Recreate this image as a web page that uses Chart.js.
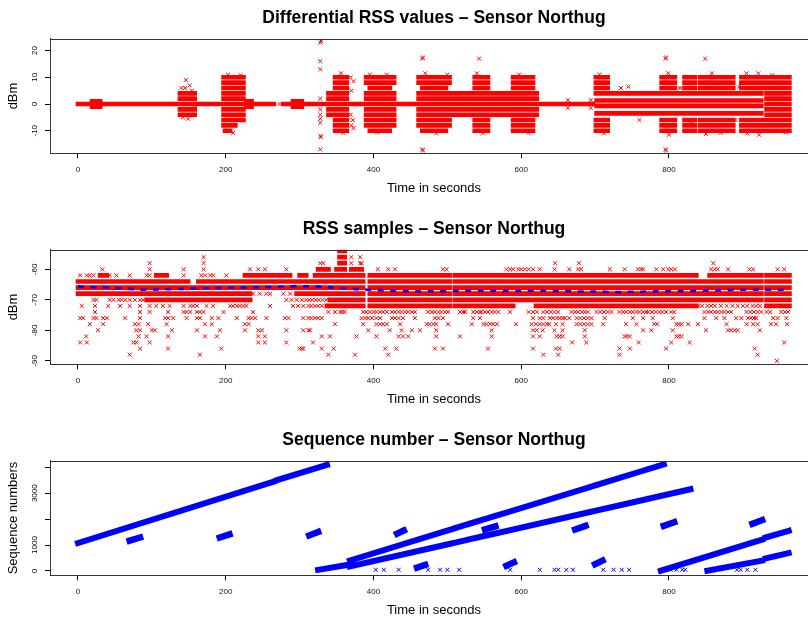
<!DOCTYPE html>
<html><head><meta charset="utf-8">
<script src="https://cdn.jsdelivr.net/npm/chart.js@4"></script>
<style>
html,body{margin:0;padding:0;background:#fff;}
#wrap{position:relative;width:808px;height:620px;overflow:hidden;background:#fff;}
canvas{position:absolute;left:0;}
</style></head><body>
<div id="wrap">
<canvas id="c1" width="830" height="211" style="top:0px"></canvas>
<canvas id="c2" width="830" height="211" style="top:211px"></canvas>
<canvas id="c3" width="830" height="198" style="top:422px"></canvas>
</div>
<script>
// ---------- shared axis data ----------
const xTicks = [0, 200, 400, 600, 800];
const diffYTicks = [-10, 0, 10, 20];
const rssYTicks = [-90, -80, -70, -60];
const seqYTicks = [0, 1000, 2000, 3000, 4000];
const seqYLabels = [0, 1000, 3000];

// ---------- Panel 1: differential RSS ----------
// [tStart, tEnd, [levels]] : dense rows of samples
const diffRows = [
 [0,265,[0]],[278,697,[0]],
 [19,30,[1,-1]],
 [138,158,[4,2,-2,-4]],
 [197,213,[10,8,6,4,2,-2,-4,-6,-8]],[199,206,[-10]],
 [215,224,[10,8,6,4,2,-2,-4,-6]],
 [228,235,[1,-1]],
 [291,303,[1,-1]],
 [339,348,[4,2,-2,-4]],
 [348,364,[10,8,6,4,2,-2,-4,-6,-8,-10]],
 [390,428,[10,8,4,2,-2,-4,-6,-8]],[395,422,[6,-10]],
 [461,503,[10,8,4,2,-2,-4,-6,-8]],[466,498,[6,-10]],
 [509,525,[4,2,-2,-4]],
 [528,576,[4,2,-2,-4]],
 [537,555,[10,8,6,-6,-8,-10]],
 [580,621,[4,2,-2,-4]],
 [589,616,[10,8,6,-6,-8,-10]],
 [701,717,[10,8,6,4,-6,-8,-10]],
 [702,769,[1.3,-0.7,-3.5]],[711,769,[4]],[772,925,[4,1.3,-0.7,-3.5]],
 [790,808,[10,8,6,-6,-8,-10]],
 [821,835,[10,8,6,-6,-8,-10]],
 [842,873,[10,8,6,-6,-8,-10]],
 [876,887,[10,8,6,-6,-8,-10]],
 [898,914,[10,8,6,-6,-8,-10]],
 [920,926,[10,8,6,-6,-8,-10]],
 [932,963,[10,8,6,4,2,0,-2,-4,-6,-8,-10]]
];
// [t, value] : isolated samples
const diffPts = [
 [273,0],[328,23],[329,23.6],[328,16],[328,13],[328,2],[328,-2],[328,-4],[328,-5.5],[328,-7],[328,-12],[329,-12.4],[328,-17],
 [146,9],[145,6],[151,7],[142,-5],[149,-5.5],[154,5],[140,6],[158,-1.5],
 [369,10],[373,8.5],[370,5],[369,-4],[372,-6],[370,-8],[373,-9],
 [466,17],[467,17.4],[466,-17],[467,-17.4],[543,17],[795,17],[796,17.4],[795,-17],[796,-17.4],[849,17],
 [663,1.5],[663,-1.5],[694,1.5],[694,-1.5],
 [356,11.5],[359,-10.8],[395,11],[405,-10.6],[418,11],[470,11.5],[485,-11],[500,11],[540,11.5],[548,-11],
 [597,11],[610,-10.8],[706,11],[712,-11],[799,11.5],[800,-11.5],[858,11.5],[850,-11.2],[870,-10.8],
 [905,11.5],[906,-11],[921,11.5],[922,-11.5],[940,10.8],[958,-10.6],[203,11],[210,-10.8],[220,10.8],
 [735,6],[745,6.5],[760,-6],[815,6],[830,-6.5],[890,-6],[895,6.5]
];

// ---------- Panel 2: RSS samples ----------
// [level, [[tStart,tEnd],...]] : dense rows
const rssRows = [
 [-54,[[354,361]]],[-56,[[354,361]]],[-58,[[354,361]]],
 [-60,[[325,339],[350,361],[370,384]]],
 [-62,[[30,39],[106,120],[226,264],[269,287],[300,309],[321,339],[341,364],[368,386],[395,503],[510,526],[531,576],[580,589],[594,697],[702,769],[772,837],[855,925],[932,963]]],
 [-64,[[0,58],[61,149],[163,217],[219,339],[341,364],[368,386],[395,503],[510,526],[531,576],[580,589],[594,697],[702,769],[772,925],[932,963]]],
 [-66,[[0,339],[341,364],[368,386],[395,503],[510,526],[531,576],[580,589],[594,697],[702,769],[772,925],[932,963]]],
 [-68,[[0,233],[296,339],[341,364],[368,386],[395,503],[510,526],[531,576],[580,589],[594,697],[702,769],[772,925],[932,963]]],
 [-70,[[93,170],[174,197],[201,233],[341,364],[368,386],[395,503],[510,526],[531,576],[580,589],[594,697],[702,769],[772,925],[932,963]]],
 [-72,[[337,364],[368,386],[395,503],[510,526],[531,576],[580,589],[620,697],[702,769],[772,837],[932,963]]]
];
// [level, [t,...]] : isolated samples
const rssScatter = [
 [-56,[170,370,382]],
 [-58,[97,170,328,332,370,382,384,646,678,860]],
 [-60,[33,97,143,170,233,244,253,282,406,420,429,494,499,580,585,589,596,600,605,610,616,625,645,665,677,681,720,740,758,762,765,783,792,799,803,808,857,862,866,880,909,914,947,956]],
 [-62,[3,12,16,21,43,52,70,93,97,143,167,172,179,183,201]],
 [-68,[237,246,255,260,278,287]],
 [-70,[21,25,43,48,55,59,64,70,77,84,88,282,289,296,303,309,313,317,322,326,331,336]],
 [-72,[5,23,41,57,70,84,97,106,115,124,143,152,156,161,174,183,206,210,215,219,224,228,260,291,298,305,312,316,321,325,330,840,845,852,857,862,870,878,886,893,900,906,913,918,923]],
 [-74,[23,84,97,122,143,147,152,161,165,170,197,237,339,348,355,358,361,386,390,395,400,404,409,413,418,425,429,434,438,443,447,452,456,474,479,483,488,492,497,501,517,521,524,535,540,544,546,551,555,560,564,569,585,610,616,621,630,635,640,645,650,668,673,677,682,686,690,702,707,712,717,722,733,738,742,747,751,756,760,765,769,772,777,782,787,791,796,803,807,848,853,857,862,866,871,875,880,884,905,910,915,920,925,932,937,952,957,961]],
 [-76,[3,7,21,25,34,39,64,84,118,122,129,147,161,165,181,190,215,231,235,240,255,280,285,305,312,316,321,325,330,384,389,393,398,404,409,425,429,434,440,456,483,488,494,535,544,616,625,630,639,643,648,652,656,659,665,675,680,685,690,695,713,751,765,778,805,848,864,875,891,898,907,911,915,918,941,947,959]],
 [-78,[16,34,77,82,95,120,172,181,226,231,348,386,404,409,413,418,436,472,476,481,485,501,533,549,553,558,562,567,593,614,620,625,630,635,638,647,656,675,680,685,690,695,711,742,756,780,784,810,813,817,826,839,878,905,914,920,938,945,960]],
 [-80,[27,79,84,100,104,127,161,192,226,244,249,282,305,312,314,393,422,438,452,463,485,560,616,621,629,645,656,686,765,776,805,850,880,884,889,893,923]],
 [-82,[11,82,93,122,172,188,244,253,330,341,377,404,434,440,447,485,517,560,616,625,648,652,656,686,740,743,747,810,813,817]],
 [-84,[3,12,75,79,97,244,253,282,318,669,688,759,803,828,956]],
 [-86,[84,122,194,300,303,305,330,346,416,431,483,494,555,616,647,652,733,747,796,916]],
 [-88,[70,165,339,375,420,630,650,733,920]],
 [-90,[946]]
];
// running mean (blue dashed)
const rssMeanT = [0,40,88,147,210,250,295,330,360,392,436,467,501,540,589,626,673,707,724,776,826,862,896,930,962];
const rssMeanV = [-65.7,-66.0,-66.7,-66.4,-66.0,-65.9,-65.5,-65.7,-66.3,-66.7,-67.1,-67.3,-67.1,-67.0,-67.1,-67.0,-67.3,-67.3,-67.5,-67.3,-67.1,-66.9,-66.7,-66.7,-66.7];

// ---------- Panel 3: sequence numbers ----------
// [t0, seq0, t1, seq1] : dense runs of samples
const seqBands = [
 [0,1077,266,3460],[269,3500,337,4090],
 [325,40,364,230],
 [368,400,504,1590],[509,1640,527,1795],[529,1815,574,2200],[579,2245,696,3265],[701,3310,768,3895],[771,3920,793,4115],
 [368,170,504,1050],[509,1085,527,1200],[529,1212,574,1503],[579,1535,696,2292],[701,2324,768,2758],[771,2777,829,3154],
 [789,10,926,1204],[931,1290,962,1550],
 [852,10,926,396],[931,480,962,690]
];
const seqBlobs = [
 [70,1170,84,1290],[192,1290,205,1410],[313,1370,325,1500],[432,1440,441,1560],[459,130,470,230],
 [551,1600,565,1720],[580,200,590,330],[673,1600,687,1740],[700,260,710,400],[793,1740,807,1880],[913,1820,926,1960]
];
const seqLow = [[403,45],[414,45],[434,45],[474,45],[490,45],[500,45],[516,45],[585,45],[625,45],[645,45],[650,45],[661,45],[670,45],[711,45],[725,45],[736,45],[746,45],[802,45],[810,45],[818,45],[822,45],[892,45],[897,45],[906,45],[917,45]];

// ---------- helpers ----------
const FONT = '"Liberation Sans", Arial, Helvetica, sans-serif';
const RED = '#FF0000', BLUE = '#0000FF';

function rowsData(rows){
  const out=[];
  rows.forEach(([t0,t1,levels])=>levels.forEach(v=>{out.push({x:t0,y:v},{x:t1,y:v},{x:t1,y:null});}));
  return out;
}
function levelRowsData(rows){
  const out=[];
  rows.forEach(([v,segs])=>segs.forEach(([t0,t1])=>{out.push({x:t0,y:v},{x:t1,y:v},{x:t1,y:null});}));
  return out;
}
function levelPtsData(rows){
  const out=[];
  rows.forEach(([v,ts])=>ts.forEach(t=>out.push({x:t,y:v})));
  return out;
}
function segData(segs){
  const out=[];
  segs.forEach(([a,b,c,d])=>{out.push({x:a,y:b},{x:c,y:d},{x:c,y:null});});
  return out;
}
function pairData(p){ return p.map(([x,y])=>({x,y})); }

function bandDS(data,color,w){
  return {type:'line',data,borderColor:color,borderWidth:w,pointRadius:0,spanGaps:false,
          borderCapStyle:'square',tension:0,fill:false,clip:0};
}
function ptsDS(data,color){
  return {type:'line',data,showLine:false,pointStyle:'crossRot',pointRadius:2.8,pointBorderWidth:1,
          pointBorderColor:color,pointBackgroundColor:color,borderColor:color,clip:0};
}

const rDecor = {
  id:'rDecor',
  afterDraw(chart, args, o){
    const {ctx, chartArea:ca} = chart;
    const ys = chart.scales.y;
    ctx.save();
    ctx.strokeStyle='#333'; ctx.lineWidth=1;
    ctx.beginPath(); ctx.moveTo(ca.left, Math.round(ca.top)+0.5); ctx.lineTo(ca.right, Math.round(ca.top)+0.5); ctx.stroke();
    ctx.fillStyle='#000'; ctx.textAlign='center'; ctx.textBaseline='middle';
    ctx.font = '8px '+FONT;
    o.yLabels.forEach(v=>{
      const py = ys.getPixelForValue(v);
      ctx.save(); ctx.translate(o.labelX, py); ctx.rotate(-Math.PI/2); ctx.fillText(String(v),0,0); ctx.restore();
    });
    ctx.font = 'bold 17.5px '+FONT;
    ctx.fillText(o.title, (ca.left+ca.right)/2, o.titleY);
    ctx.restore();
  }
};

function makePanel(id, H, title, yTitle, ymin, ymax, yTicks, yLabels, datasets){
  return new Chart(document.getElementById(id), {
    type:'line',
    data:{datasets},
    plugins:[rDecor],
    options:{
      responsive:false, animation:false, devicePixelRatio:1, events:[],
      layout:{padding:{left:0,right:12,top:38.7,bottom:H-153.3-43}},
      plugins:{legend:{display:false},tooltip:{enabled:false},title:{display:false},
        rDecor:{title, yLabels, labelX:35, titleY:18.5}},
      scales:{
        x:{type:'linear',min:-37.9,max:1001.7,position:'bottom',
           afterBuildTicks:s=>{s.ticks=xTicks.map(v=>({value:v}));},
           afterFit:s=>{s.height=43;},
           grid:{drawOnChartArea:false,drawTicks:true,tickLength:5,color:'#000'},
           border:{display:true,color:'#333',width:1},
           ticks:{font:{family:FONT,size:8},color:'#111',padding:7,maxRotation:0,minRotation:0,autoSkip:false,callback:v=>String(v)},
           title:{display:true,text:'Time in seconds',font:{family:FONT,size:13},color:'#000',padding:{top:0,bottom:0}}},
        y:{type:'linear',min:ymin,max:ymax,position:'left',
           afterBuildTicks:s=>{s.ticks=yTicks.map(v=>({value:v}));},
           afterFit:s=>{s.width=50;},
           grid:{drawOnChartArea:false,drawTicks:true,tickLength:5,color:'#000'},
           border:{display:true,color:'#333',width:1},
           ticks:{display:false},
           title:{display:true,text:yTitle,font:{family:FONT,size:13},color:'#000',padding:{top:5.5,bottom:0}}}
      }
    }
  });
}

makePanel('c1',211,'Differential RSS values \u2013 Sensor Northug','dBm',-18.46,24.46,diffYTicks,diffYTicks,[
  ptsDS(pairData(diffPts),RED),
  bandDS(rowsData(diffRows),RED,4.6)
]);
makePanel('c2',211,'RSS samples \u2013 Sensor Northug','dBm',-91.15,-53.57,rssYTicks,rssYTicks,[
  {type:'line',data:rssMeanT.map((t,i)=>({x:t,y:rssMeanV[i]})),borderColor:BLUE,borderWidth:2.7,borderDash:[6,6.5],pointRadius:0,tension:0,fill:false},
  ptsDS(levelPtsData(rssScatter),RED),
  bandDS(levelRowsData(rssRows),RED,4.7)
]);
makePanel('c3',198,'Sequence number \u2013 Sensor Northug','Sequence numbers',-169,4254,seqYTicks,seqYLabels,[
  ptsDS(pairData(seqLow),BLUE),
  bandDS(segData(seqBlobs),BLUE,6.5),
  bandDS(segData(seqBands),BLUE,6)
]);
</script>
</body></html>
